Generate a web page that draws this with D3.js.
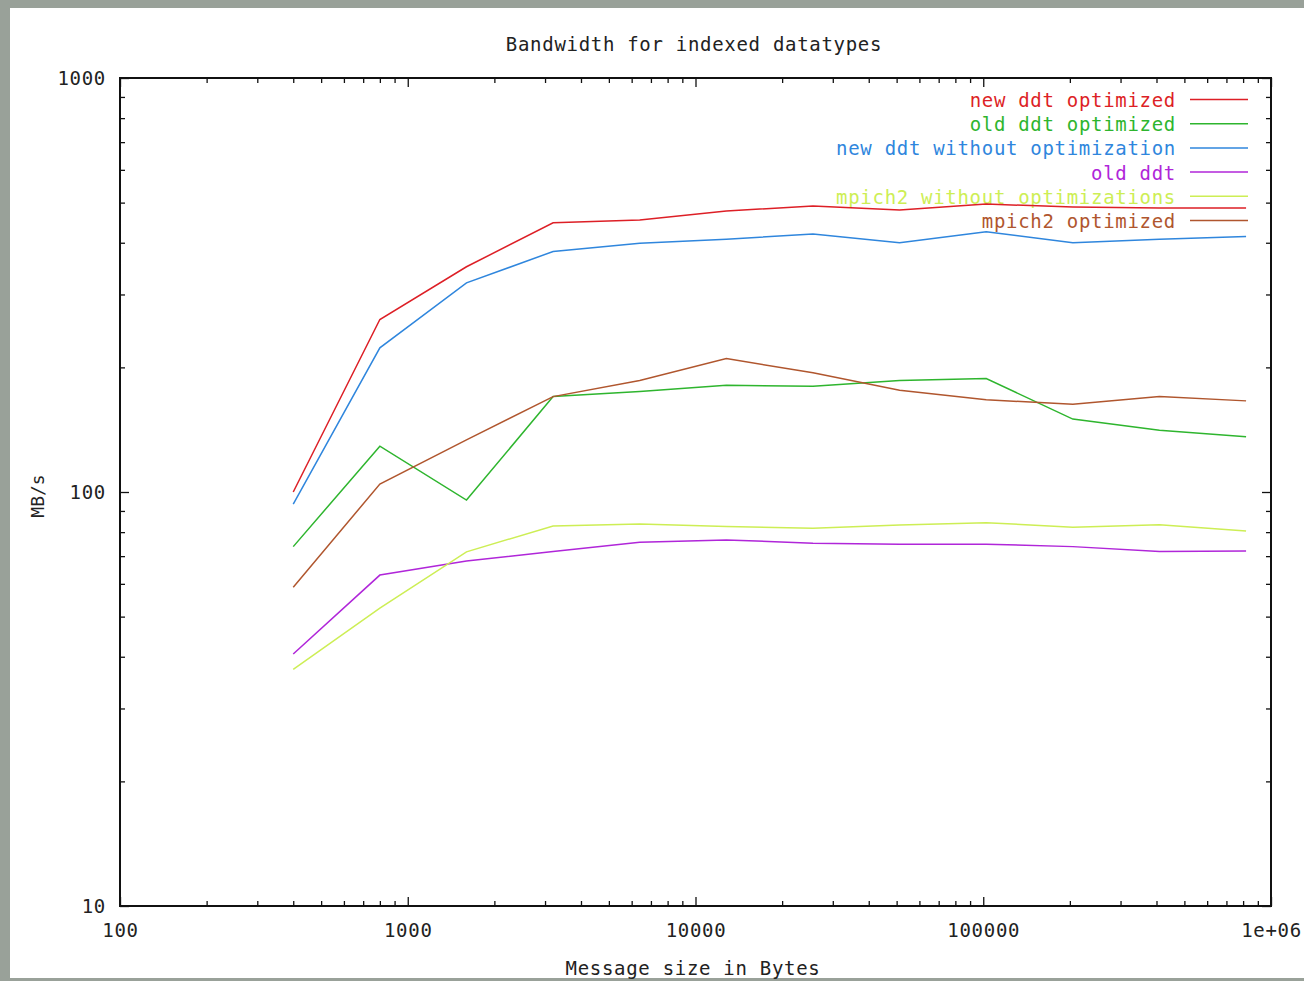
<!DOCTYPE html>
<html>
<head>
<meta charset="utf-8">
<script src="https://cdn.jsdelivr.net/npm/d3@7"></script>
<style>
  html, body { margin: 0; padding: 0; background: #99a199; }
  svg { display: block; }
  text { font-family: "DejaVu Sans Mono", "Liberation Mono", monospace; }
</style>
</head>
<body>
<svg id="chart" width="1304" height="981"></svg>
<script>
// message sizes (bytes)
const sizes = [400, 800, 1600, 3200, 6400, 12800, 25600, 51200, 102400, 204800, 409600, 819200];

// MB/s per series
const newDdtOpt   = [100, 261, 350, 447, 454, 477, 491, 480, 496, 488, 485, 485];
const oldDdtOpt   = [73.8, 129, 95.6, 170, 175, 181, 180, 186, 188, 150, 141, 136];
const newDdtNoOpt = [93.5, 223, 320, 381, 399, 408, 420, 400, 425, 400, 408, 414];
const oldDdt      = [40.6, 63.0, 68.1, 71.8, 75.6, 76.6, 75.2, 74.8, 74.8, 73.8, 71.8, 72.0];
const mpichNoOpt  = [37.3, 52.4, 71.7, 82.8, 83.7, 82.5, 81.7, 83.2, 84.3, 82.2, 83.4, 80.5];
const mpichOpt    = [58.9, 104.5, 133.6, 170, 186, 210, 194, 176, 167, 163, 170, 166];

const seriesNames = ["new ddt optimized", "old ddt optimized", "new ddt without optimization",
                     "old ddt", "mpich2 without optimizations", "mpich2 optimized"];
const seriesVals = [newDdtOpt, oldDdtOpt, newDdtNoOpt, oldDdt, mpichNoOpt, mpichOpt];
const colors = ["#dd1f26", "#2eb52e", "#2f86dd", "#b026d9", "#cdee55", "#b0562e"];

const xMajor = [100, 1000, 10000, 100000, 1e6];
const xLabels = ["100", "1000", "10000", "100000", "1e+06"];
const yMajor = [10, 100, 1000];
const yLabels = ["10", "100", "1000"];

const FS = "19px", LS = "0.7px";

let chart = d3.select("#chart");

// white page area
chart.append("rect")
    .attr("x", 10).attr("y", 8)
    .attr("width", 1294).attr("height", 970)
    .attr("fill", "#ffffff");

let pLeft = 120, pRight = 1271, pTop = 78, pBottom = 906;

let xScale = d3.scaleLog().domain([100, 1e6]).range([pLeft, pRight]);
let yScale = d3.scaleLog().domain([10, 1000]).range([pBottom, pTop]);

// minor ticks 2..9 in every decade
function minors(lo, hi) {
    let out = [];
    for (let d = lo; d < hi; d *= 10)
        for (let k = 2; k <= 9; k++) out.push(d * k);
    return out;
}
let xMinor = minors(100, 1e6);
let yMinor = minors(10, 1000);

function styleAxis(g) {
    g.select(".domain").remove();
    g.selectAll("line").attr("stroke", "#111").attr("stroke-width", 1.3);
    g.selectAll("text").attr("font-size", FS).attr("letter-spacing", LS)
        .attr("fill", "#222").attr("font-family", "DejaVu Sans Mono, monospace");
}

// bottom
chart.append("g").attr("transform", "translate(0," + pBottom + ")")
    .call(d3.axisBottom(xScale).tickValues(xMajor).tickSizeInner(-9).tickSizeOuter(0).tickPadding(18)
        .tickFormat((d, i) => xLabels[i]))
    .call(styleAxis);
chart.append("g").attr("transform", "translate(0," + pBottom + ")")
    .call(d3.axisBottom(xScale).tickValues(xMinor).tickSizeInner(-5).tickSizeOuter(0).tickFormat(""))
    .call(styleAxis);
// top (mirror)
chart.append("g").attr("transform", "translate(0," + pTop + ")")
    .call(d3.axisTop(xScale).tickValues(xMajor).tickSizeInner(-9).tickSizeOuter(0).tickFormat(""))
    .call(styleAxis);
chart.append("g").attr("transform", "translate(0," + pTop + ")")
    .call(d3.axisTop(xScale).tickValues(xMinor).tickSizeInner(-5).tickSizeOuter(0).tickFormat(""))
    .call(styleAxis);
// left
chart.append("g").attr("transform", "translate(" + pLeft + ",0)")
    .call(d3.axisLeft(yScale).tickValues(yMajor).tickSizeInner(-9).tickSizeOuter(0).tickPadding(14)
        .tickFormat((d, i) => yLabels[i]))
    .call(styleAxis);
chart.append("g").attr("transform", "translate(" + pLeft + ",0)")
    .call(d3.axisLeft(yScale).tickValues(yMinor).tickSizeInner(-5).tickSizeOuter(0).tickFormat(""))
    .call(styleAxis);
// right (mirror)
chart.append("g").attr("transform", "translate(" + pRight + ",0)")
    .call(d3.axisRight(yScale).tickValues(yMajor).tickSizeInner(-9).tickSizeOuter(0).tickFormat(""))
    .call(styleAxis);
chart.append("g").attr("transform", "translate(" + pRight + ",0)")
    .call(d3.axisRight(yScale).tickValues(yMinor).tickSizeInner(-5).tickSizeOuter(0).tickFormat(""))
    .call(styleAxis);

// border
chart.append("rect")
    .attr("x", pLeft).attr("y", pTop)
    .attr("width", pRight - pLeft).attr("height", pBottom - pTop)
    .attr("fill", "none").attr("stroke", "#111").attr("stroke-width", 2);

// legend (drawn first so lines sit on top, like the original)
let legend = chart.append("g");
seriesNames.forEach((name, i) => {
    let ly = 99.5 + i * 24.2;
    legend.append("text")
        .text(name)
        .attr("x", 1176).attr("y", ly + 7.5)
        .attr("text-anchor", "end")
        .attr("font-size", FS).attr("letter-spacing", LS)
        .attr("fill", colors[i]);
    legend.append("line")
        .attr("x1", 1190).attr("x2", 1248)
        .attr("y1", ly).attr("y2", ly)
        .attr("stroke", colors[i]).attr("stroke-width", 1.5);
});

// series lines
let line = d3.line()
    .x((d, i) => xScale(sizes[i]))
    .y(d => yScale(d));

seriesVals.forEach((vals, i) => {
    chart.append("path")
        .datum(vals)
        .attr("d", line)
        .attr("fill", "none")
        .attr("stroke", colors[i])
        .attr("stroke-width", 1.5);
});

// titles
chart.append("text")
    .text("Bandwidth for indexed datatypes")
    .attr("x", 694).attr("y", 51)
    .attr("text-anchor", "middle")
    .attr("font-size", FS).attr("letter-spacing", LS)
    .attr("fill", "#222");

chart.append("text")
    .text("Message size in Bytes")
    .attr("x", 693).attr("y", 975)
    .attr("text-anchor", "middle")
    .attr("font-size", FS).attr("letter-spacing", LS)
    .attr("fill", "#222");

chart.append("text")
    .text("MB/s")
    .attr("transform", "translate(44,496) rotate(-90)")
    .attr("text-anchor", "middle")
    .attr("font-size", "18px")
    .attr("fill", "#222");
</script>
</body>
</html>
